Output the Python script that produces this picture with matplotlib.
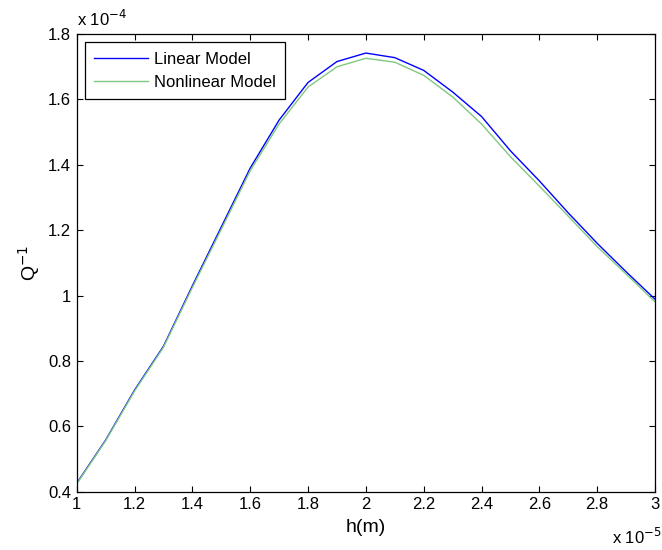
import matplotlib
matplotlib.use("Agg")
import matplotlib.pyplot as plt

# h in units of 1e-5 m, Q^-1 in units of 1e-4
h = [1.0, 1.1, 1.2, 1.3, 1.4, 1.5, 1.6, 1.7, 1.8, 1.9, 2.0,
     2.1, 2.2, 2.3, 2.4, 2.5, 2.6, 2.7, 2.8, 2.9, 3.0]
q_linear = [0.426, 0.558, 0.711, 0.845, 1.030, 1.210, 1.390, 1.537, 1.652, 1.716, 1.742,
            1.728, 1.689, 1.623, 1.548, 1.443, 1.351, 1.253, 1.160, 1.073, 0.989]
q_nonlinear = [0.424, 0.556, 0.708, 0.842, 1.025, 1.203, 1.382, 1.525, 1.638, 1.700, 1.726,
               1.714, 1.674, 1.608, 1.525, 1.425, 1.335, 1.243, 1.150, 1.066, 0.981]
xticks = [1, 1.2, 1.4, 1.6, 1.8, 2, 2.2, 2.4, 2.6, 2.8, 3]
yticks = [0.4, 0.6, 0.8, 1, 1.2, 1.4, 1.6, 1.8]

plt.rcParams['font.family'] = ['Liberation Sans', 'DejaVu Sans']

fig = plt.figure(figsize=(6.62, 5.5), dpi=100)
ax = fig.add_axes([0.1159, 0.106, 0.8735, 0.832])

ax.plot(h, q_linear, color='#0000ff', lw=1.0, label='Linear Model')
ax.plot(h, q_nonlinear, color='#80c880', lw=1.0, label='Nonlinear Model')

ax.set_xlim(1, 3)
ax.set_ylim(0.4, 1.8)
ax.set_xticks(xticks)
ax.set_xticklabels(['%g' % t for t in xticks])
ax.set_yticks(yticks)
ax.set_yticklabels(['%g' % t for t in yticks])
ax.tick_params(direction='in', length=4, width=0.8, top=True, right=True,
               labelsize=12, pad=4)
for s in ax.spines.values():
    s.set_linewidth(0.9)

ax.set_xlabel('h(m)', fontsize=14, labelpad=5)
ax.set_ylabel('Q$^{-1}$', fontsize=14, labelpad=4)

ax.text(0.0, 1.012, r'x 10$^{-4}$', transform=ax.transAxes, fontsize=12,
        ha='left', va='bottom')
ax.text(0.926, -0.099, r'x 10$^{-5}$', transform=ax.transAxes, fontsize=12,
        ha='left', va='center')

leg = ax.legend(loc='upper left', fontsize=12, fancybox=False, framealpha=1,
                edgecolor='black', borderaxespad=0.5, handlelength=3.2,
                borderpad=0.55, labelspacing=0.5, handletextpad=0.4)
leg.get_frame().set_linewidth(0.9)

fig.savefig('out.png', dpi=100)
